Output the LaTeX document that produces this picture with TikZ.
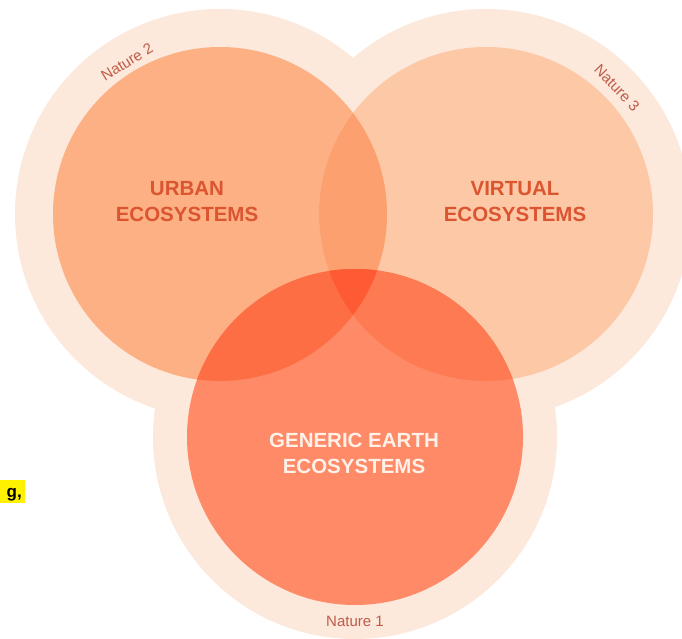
\documentclass[tikz,border=0pt]{standalone}
\usepackage{fontspec}
\setmainfont{Liberation Sans}
\definecolor{halo}{HTML}{FDE8DC}
\definecolor{urb}{HTML}{FCB083}
\definecolor{vir}{HTML}{FDC8A6}
\definecolor{gen}{HTML}{FE8A67}
\definecolor{uvc}{HTML}{FCA06F}
\definecolor{ugc}{HTML}{FE6E45}
\definecolor{vgc}{HTML}{FE7A52}
\definecolor{uvgc}{HTML}{FE5A33}
\definecolor{labc}{HTML}{DB5530}
\definecolor{genlab}{HTML}{FFF1E8}
\definecolor{natc}{HTML}{BF5B48}
\definecolor{hilite}{HTML}{FFF200}
\tikzset{
  biglab/.style={align=center, font=\bfseries\fontsize{20.5}{26}\selectfont, inner sep=0pt},
  naturelab/.style={font=\fontsize{15}{15}\selectfont, text=natc, inner sep=0pt}
}
\begin{document}
\begin{tikzpicture}[x=1pt,y=1pt]
\useasboundingbox (0,0) rectangle (682,638);
\fill[white] (0,0) rectangle (682,638);
\coordinate (U) at (220,424);
\coordinate (V) at (486,424);
\coordinate (G) at (355,201);
% halos
\fill[halo] (U) circle[radius=205] (V) circle[radius=205] (G) circle[radius=202];
% circles
\fill[urb] (U) circle[radius=167];
\fill[vir] (V) circle[radius=167];
\fill[gen] (G) circle[radius=168];
\begin{scope}
  \clip (U) circle[radius=167];
  \fill[uvc] (V) circle[radius=167];
  \fill[ugc] (G) circle[radius=168];
\end{scope}
\begin{scope}
  \clip (V) circle[radius=167];
  \fill[vgc] (G) circle[radius=168];
\end{scope}
\begin{scope}
  \clip (U) circle[radius=167];
  \clip (V) circle[radius=167];
  \fill[uvgc] (G) circle[radius=168];
\end{scope}
% labels
\node[biglab, text=labc] (urban) at (187,436) {URBAN\\ECOSYSTEMS};
\node[biglab, text=labc] (virtual) at (515,436) {VIRTUAL\\ECOSYSTEMS};
\node[biglab, text=genlab] (generic) at (354,185) {GENERIC EARTH\\ECOSYSTEMS};
% nature labels
\node[naturelab, rotate=31.5] (n2) at (127,576) {Nature 2};
\node[naturelab, rotate=-46] (n3) at (617,550) {Nature 3};
\node[naturelab] (n1) at (355,17) {Nature 1};
% highlighted fragment
\fill[hilite] (0,135) rectangle (25,158);
\node[anchor=base east, inner sep=0pt, font=\bfseries\fontsize{17}{17}\selectfont] (frag) at (22,141) {g,};
\end{tikzpicture}
\end{document}
